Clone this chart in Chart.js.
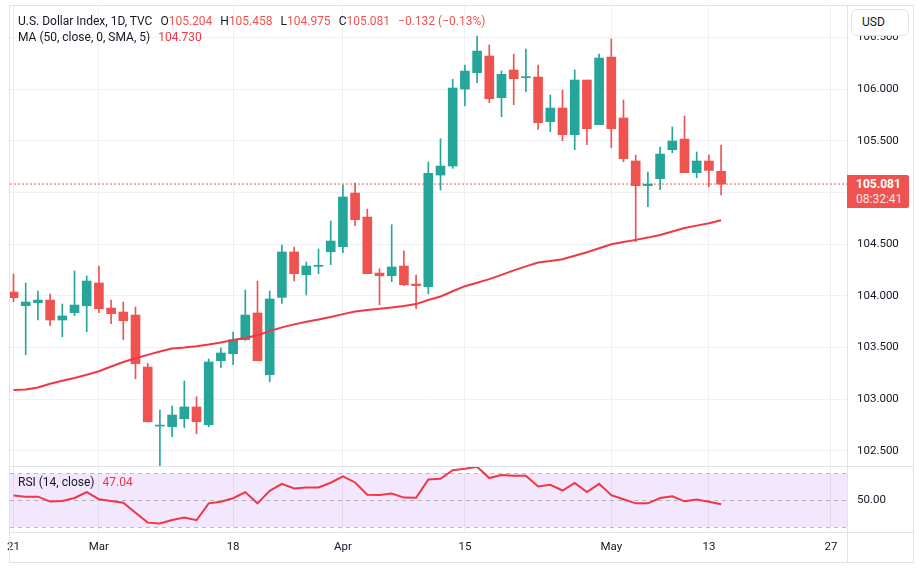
<!DOCTYPE html>
<html lang="en">
<head>
<meta charset="UTF-8">
<title>U.S. Dollar Index, 1D, TVC</title>
<script src="https://cdn.jsdelivr.net/npm/chart.js"></script>
<style>
body { margin: 0; background: #fff; font-family: Roboto, sans-serif; color: #131722; }
.wrap { position: relative; width: 923px; height: 572px; overflow: hidden; }
canvas { position: absolute; left: 0; }
#mainCanvas { top: 0; }
#rsiCanvas { top: 466px; }
.line { position: absolute; background: #e0e3eb; }
.legend { position: absolute; left: 18px; font-size: 12px; line-height: 16px; white-space: nowrap; }
.legend .v { color: #ef5350; }
.legend .ma { color: #f23645; }
.gap { margin-left: 8px; }
.usd { position: absolute; left: 851px; top: 9px; width: 58px; height: 27px; box-sizing: border-box;
       border: 1px solid #e0e3eb; border-radius: 6px; background: #fff; font-size: 12px; line-height: 25px; padding-left: 10px; }
.tag { position: absolute; left: 847px; width: 62px; height: 33px; box-sizing: border-box; background: #ef5350;
       color: #fff; font-size: 12px; line-height: 15px; padding: 2px 0 0 9px; border-radius: 0 2px 2px 0; }
.tag b { display: block; }
.tag span { display: block; color: #fde3e3; }
</style>
</head>
<body>
<div class="wrap">
    <canvas id="mainCanvas" width="923" height="466"></canvas>
    <canvas id="rsiCanvas" width="923" height="97"></canvas>

    <!-- khung và đường chia -->
    <div class="line" style="left:9px;top:5px;width:905px;height:1px"></div>
    <div class="line" style="left:9px;top:562px;width:905px;height:1px"></div>
    <div class="line" style="left:9px;top:5px;width:1px;height:558px"></div>
    <div class="line" style="left:913px;top:5px;width:1px;height:558px"></div>
    <div class="line" style="left:847px;top:5px;width:1px;height:558px"></div>
    <div class="line" style="left:9px;top:466px;width:905px;height:1px"></div>
    <div class="line" style="left:9px;top:532px;width:905px;height:1px"></div>

    <div class="legend" style="top:13px">U.S. Dollar Index, 1D, TVC<span class="gap">O<span class="v" id="vO"></span></span><span class="gap">H<span class="v" id="vH"></span></span><span class="gap">L<span class="v" id="vL"></span></span><span class="gap">C<span class="v" id="vC"></span></span><span class="gap v" id="vChg"></span></div>
    <div class="legend" style="top:29px">MA (50, close, 0, SMA, 5)<span class="gap ma" id="vMA"></span></div>
    <div class="legend" style="top:474px">RSI (14, close)<span class="gap ma" id="vRSI"></span></div>

    <div class="usd">USD</div>
    <div class="tag" id="tag"><b id="tagPrice"></b><span>08:32:41</span></div>
</div>

<script>
// Dữ liệu nến ngày (21/2 -> 14/5)
const opens  = [104.037,103.904,103.933,103.959,103.766,103.837,103.904,104.124,103.882,103.843,
                103.814,103.311,102.740,102.734,102.811,102.925,102.753,103.372,103.440,103.575,
                103.834,103.237,103.985,104.424,104.204,104.285,104.426,104.475,104.994,104.762,
                104.220,104.194,104.288,104.114,104.088,105.168,105.255,106.000,106.158,106.319,
                105.916,106.184,106.110,106.116,105.684,105.816,105.558,106.087,105.655,106.309,
                105.720,105.304,105.065,105.133,105.413,105.516,105.191,105.304,105.204];
const highs  = [104.211,104.124,104.046,104.017,103.921,104.240,104.192,104.288,103.959,103.940,
                103.892,103.347,102.896,102.934,103.176,103.024,103.389,103.495,103.650,104.056,
                104.143,104.046,104.491,104.472,104.327,104.453,104.723,105.072,105.091,104.839,
                104.262,104.688,104.436,104.201,105.294,105.519,106.094,106.232,106.513,106.426,
                106.174,106.338,106.387,106.232,105.942,105.990,106.184,106.087,106.338,106.484,
                105.894,105.362,105.197,105.439,105.633,105.739,105.391,105.362,105.458];
const lows   = [103.943,103.430,103.766,103.711,103.604,103.808,103.653,103.837,103.730,103.575,
                103.198,102.780,102.357,102.637,102.724,102.666,102.734,103.305,103.334,103.570,
                103.372,103.169,103.927,104.143,104.008,104.214,104.301,104.417,104.678,104.214,
                103.914,104.136,104.098,103.875,104.020,105.023,105.233,105.836,106.061,105.868,
                105.732,105.848,105.974,105.610,105.587,105.500,105.413,105.461,105.655,105.432,
                105.297,104.523,104.862,105.026,105.384,105.191,105.142,105.055,104.975];
const closes = [103.982,103.940,103.959,103.766,103.805,103.911,104.143,103.875,103.827,103.759,
                103.343,102.782,102.745,102.847,102.925,102.782,103.360,103.447,103.575,103.814,
                103.372,103.969,104.424,104.214,104.288,104.290,104.530,104.956,104.736,104.214,
                104.194,104.279,104.107,104.098,105.185,105.255,106.010,106.174,106.367,105.906,
                106.142,106.100,106.115,105.674,105.816,105.558,106.087,105.616,106.300,105.616,
                105.326,105.065,105.080,105.371,105.497,105.191,105.304,105.213,105.081];
// MA 50
const ma50 = [103.089,103.093,103.114,103.150,103.178,103.205,103.237,103.271,103.316,103.360,
              103.396,103.429,103.461,103.490,103.500,103.513,103.529,103.548,103.573,103.592,
              103.619,103.658,103.695,103.724,103.749,103.770,103.796,103.823,103.848,103.862,
              103.875,103.888,103.901,103.920,103.959,103.993,104.044,104.093,104.126,104.161,
              104.203,104.246,104.285,104.322,104.336,104.353,104.388,104.421,104.460,104.499,
              104.520,104.541,104.563,104.589,104.622,104.655,104.679,104.702,104.730];
// RSI 14
const rsi14 = [53.5,52.7,52.7,49.0,49.5,51.7,56.1,50.8,49.5,48.2,
               40.6,33.3,32.6,35.3,37.1,35.1,47.7,48.9,51.5,56.1,
               47.7,57.0,62.3,58.8,59.5,59.5,63.1,67.9,63.3,54.2,
               54.0,55.0,52.0,51.8,65.6,66.1,72.5,73.5,75.0,66.6,
               68.9,68.4,68.4,60.3,61.6,57.3,62.9,56.1,62.3,53.8,
               50.8,47.7,47.7,51.7,53.0,49.2,50.5,48.9,47.04];
const rsiLevels = [70, 50, 30];

// Nhãn trục thời gian (vị trí theo số thứ tự nến)
const timeTickIdx = [0, 7, 18, 27, 37, 49, 57, 67];
const timeTickLabels = ['21', 'Mar', '18', 'Apr', '15', 'May', '13', '27'];
const priceTicks = [102.5, 103, 103.5, 104, 104.5, 105, 105.5, 106, 106.5];
const rsiTicks = [50];

const GREEN = '#26a69a', RED = '#ef5350', LINE_RED = '#f23645', GRID = '#eef0f4';
const xMin = -0.287, xMax = 68.32;
const AXIS_FONT = { family: 'Roboto', size: 11.5 };

Chart.defaults.font.family = 'Roboto';
Chart.defaults.font.size = 12;
Chart.defaults.color = '#131722';

// bỏ phần đệm tự động của nhãn để vùng vẽ khớp đúng khung
const noPadY = s => { s.width = 66; s.paddingTop = 0; s.paddingBottom = 0; };
const noPadX = h => s => { s.height = h; s.paddingLeft = 0; s.paddingRight = 0; };

const candleColors = closes.map((c, i) => c >= opens[i] ? GREEN : RED);
const lastClose = closes[closes.length - 1];

const mainChart = new Chart(document.getElementById('mainCanvas'), {
    type: 'bar',
    data: {
        datasets: [
            { type: 'line', data: ma50.map((v, i) => ({ x: i, y: v })), borderColor: LINE_RED, borderWidth: 2,
              pointRadius: 0, order: 0 },
            { data: opens.map((o, i) => ({ x: i, y: [o, closes[i]] })), backgroundColor: candleColors,
              barThickness: 9, grouped: false, minBarLength: 1, order: 1 },
            { data: lows.map((l, i) => ({ x: i, y: [l, highs[i]] })), backgroundColor: candleColors,
              barThickness: 1, grouped: false, order: 2 },
            { type: 'line', data: [{ x: xMin, y: lastClose }, { x: xMax, y: lastClose }], borderColor: RED,
              borderWidth: 1, borderDash: [2, 2], pointRadius: 0, order: 3 }
        ]
    },
    options: {
        responsive: false,
        animation: false,
        layout: { padding: { left: 10, right: 10, top: 6, bottom: 0 } },
        plugins: { legend: { display: false }, tooltip: { enabled: false } },
        scales: {
            x: {
                type: 'linear', min: xMin, max: xMax, offset: false,
                grid: { color: GRID, drawTicks: false, offset: false },
                border: { display: false },
                ticks: { display: false },
                afterBuildTicks: s => { s.ticks = timeTickIdx.map(v => ({ value: v })); },
                afterFit: noPadX(0)
            },
            y: {
                position: 'right', min: 102.354, max: 106.803,
                grid: { color: GRID, drawTicks: false },
                border: { display: false },
                ticks: { padding: 10, font: AXIS_FONT, callback: v => v.toFixed(3) },
                afterBuildTicks: s => { s.ticks = priceTicks.map(v => ({ value: v })); },
                afterFit: noPadY
            }
        }
    }
});

// Vùng tím và các đường nét đứt của RSI
const rsiBand = {
    id: 'rsiBand',
    beforeDatasetsDraw(chart) {
        const { ctx, chartArea: a, scales: { y } } = chart;
        const top = y.getPixelForValue(rsiLevels[0]), bot = y.getPixelForValue(rsiLevels[2]);
        ctx.save();
        ctx.fillStyle = 'rgba(150, 60, 230, 0.12)';
        ctx.fillRect(a.left, top, a.right - a.left, bot - top);
        ctx.strokeStyle = 'rgba(120, 123, 134, 0.5)';
        ctx.lineWidth = 1;
        ctx.setLineDash([4, 4]);
        rsiLevels.forEach(l => {
            const py = Math.round(y.getPixelForValue(l)) + 0.5;
            ctx.beginPath();
            ctx.moveTo(a.left, py);
            ctx.lineTo(a.right, py);
            ctx.stroke();
        });
        ctx.restore();
    }
};

new Chart(document.getElementById('rsiCanvas'), {
    type: 'line',
    data: {
        datasets: [{ data: rsi14.map((v, i) => ({ x: i, y: v })), borderColor: LINE_RED, borderWidth: 2, pointRadius: 0 }]
    },
    options: {
        responsive: false,
        animation: false,
        layout: { padding: { left: 10, right: 10, top: 0, bottom: 0 } },
        plugins: { legend: { display: false }, tooltip: { enabled: false } },
        scales: {
            x: {
                type: 'linear', min: xMin, max: xMax,
                grid: { color: GRID, drawTicks: false },
                border: { display: false },
                ticks: { padding: 8, maxRotation: 0, autoSkip: false, font: AXIS_FONT,
                         callback: v => timeTickLabels[timeTickIdx.indexOf(v)] },
                afterBuildTicks: s => { s.ticks = timeTickIdx.map(v => ({ value: v })); },
                afterFit: noPadX(31)
            },
            y: {
                position: 'right', min: 26.3, max: 75.6,
                grid: { display: false, drawTicks: false },
                border: { display: false },
                ticks: { padding: 10, font: AXIS_FONT, callback: v => v.toFixed(2) },
                afterBuildTicks: s => { s.ticks = rsiTicks.map(v => ({ value: v })); },
                afterFit: noPadY
            }
        }
    },
    plugins: [rsiBand]
});

// Chú thích và nhãn giá
const n = closes.length - 1;
const chg = closes[n] - closes[n - 1];
const fmt = v => v.toFixed(3);
const neg = s => s.replace('-', '\u2212');
document.getElementById('vO').textContent = fmt(opens[n]);
document.getElementById('vH').textContent = fmt(highs[n]);
document.getElementById('vL').textContent = fmt(lows[n]);
document.getElementById('vC').textContent = fmt(closes[n]);
document.getElementById('vChg').textContent = neg(chg.toFixed(3)) + ' (' + neg((chg / closes[n - 1] * 100).toFixed(2)) + '%)';
document.getElementById('vMA').textContent = fmt(ma50[n]);
document.getElementById('vRSI').textContent = rsi14[n].toFixed(2);
document.getElementById('tagPrice').textContent = fmt(lastClose);
const tagY = mainChart.scales.y.getPixelForValue(lastClose);
document.getElementById('tag').style.top = (tagY - 9.5) + 'px';
</script>
</body>
</html>
